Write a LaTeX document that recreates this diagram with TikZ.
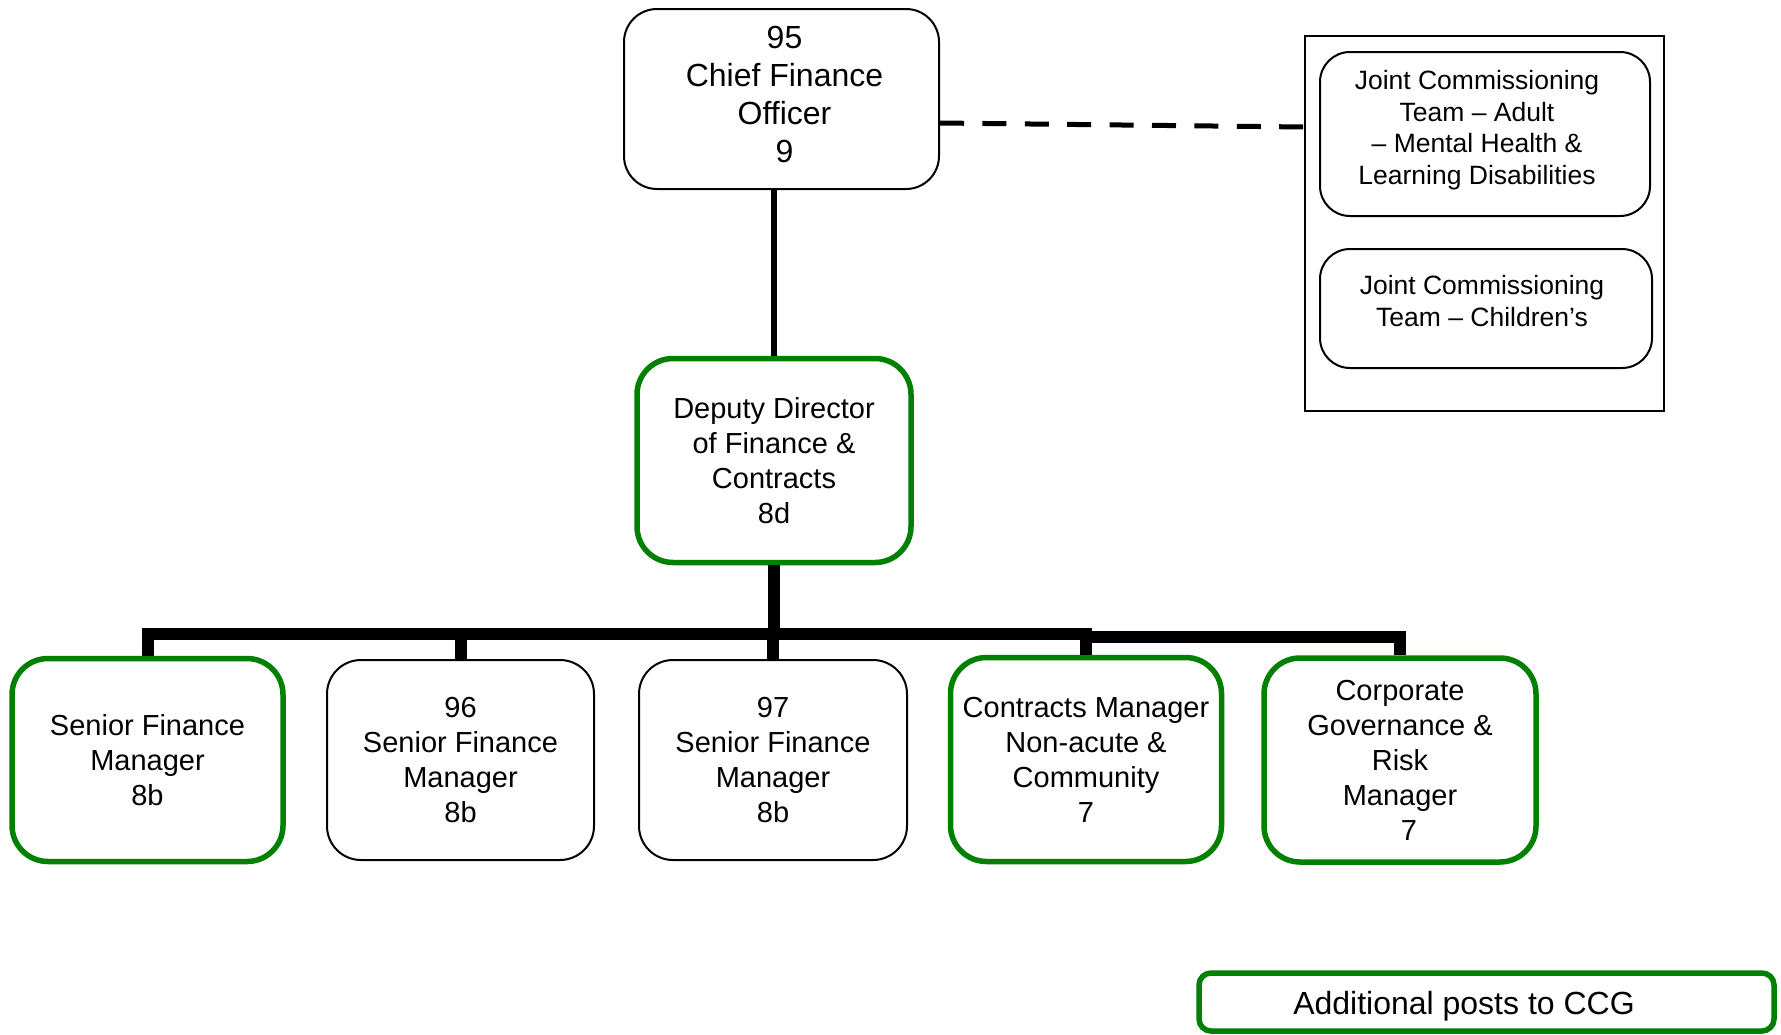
\documentclass[tikz,border=0pt]{standalone}
\usepackage{fontspec}
\setmainfont{Liberation Sans}
\definecolor{boxgreen}{RGB}{0,128,0}
\newcommand{\padr}[1]{\rule{#1}{0pt}}
\begin{document}
\begin{tikzpicture}[x=1pt,y=-1pt,
  basebox/.style={rounded corners=33pt, align=center, inner sep=2pt, text=black, fill=white},
  plainbox/.style={basebox, draw=black, line width=2pt},
  greenbox/.style={basebox, draw=boxgreen, line width=5.5pt},
  jctbox/.style={plainbox, rounded corners=30pt, font=\fontsize{26.5}{31.7}\selectfont},
  bigfont/.style={font=\fontsize{32}{38}\selectfont},
  midfont/.style={font=\fontsize{29}{35}\selectfont},
  bus/.style={draw=black, line width=12pt, line join=miter, line cap=butt},
  vline/.style={draw=black, line width=6pt},
  dashline/.style={draw=black, line width=5pt, dash pattern=on 24pt off 18.4pt}
]
\useasboundingbox (0,0) rectangle (1781,1034);

% top
\node[plainbox, bigfont, minimum width=315pt, minimum height=180pt] (cfo) at (781.5,99)
  {\padr{6pt}95\\\padr{6pt}Chief Finance\\\padr{6pt}Officer\\\padr{6pt}9\rule[-9pt]{0pt}{0pt}};
\node[greenbox, midfont, rounded corners=36pt, minimum width=274pt, minimum height=204pt] (dd) at (774,460.5)
  {Deputy Director\\of Finance \&\\Contracts\\8d};

% right frame
\node[draw=black, line width=2pt, minimum width=359pt, minimum height=375pt, inner sep=0pt] (frame) at (1484.5,223.5) {};
\node[jctbox, minimum width=330pt, minimum height=164pt] (jcta) at (1485,134)
  {Joint Commissioning\padr{16pt}\\Team – Adult\padr{16pt}\\– Mental Health \&\padr{16pt}\\Learning Disabilities\padr{16pt}\rule[-13pt]{0pt}{0pt}};
\node[jctbox, minimum width=332pt, minimum height=119pt] (jctc) at (1486,308.5)
  {Joint Commissioning\padr{8pt}\\Team – Children’s\padr{8pt}\rule[-15pt]{0pt}{0pt}};

% bottom row
\node[greenbox, midfont, rounded corners=36pt, minimum width=271pt, minimum height=203pt] (sfm) at (147.5,760)
  {Senior Finance\\Manager\\8b};
\node[plainbox, midfont, rounded corners=34pt, minimum width=267pt, minimum height=200pt] (m96) at (460.5,760)
  {96\\Senior Finance\\Manager\\8b};
\node[plainbox, midfont, rounded corners=34pt, minimum width=268pt, minimum height=200pt] (m97) at (773,760)
  {97\\Senior Finance\\Manager\\8b};
\node[greenbox, midfont, rounded corners=36pt, minimum width=271pt, minimum height=204pt] (cm) at (1086,759.5)
  {Contracts Manager\\Non-acute \&\\Community\\7};
\node[greenbox, midfont, rounded corners=36pt, minimum width=272pt, minimum height=204pt] (cg) at (1400,760)
  {Corporate\\Governance \&\\Risk\\Manager\\\hspace*{18pt}7};

% legend
\node[greenbox, rounded corners=12pt, bigfont, minimum width=575pt, minimum height=58pt] (add) at (1486.5,1002)
  {\rule{0pt}{32pt}Additional posts to CCG\padr{45pt}};

% connectors
\coordinate (dl) at (941,123);
\coordinate (dr) at (1304,127);
\draw[dashline] (cfo.east |- dl) -- (frame.west |- dr);
\draw[vline] (dd.north) -- (dd.north |- cfo.south);

\coordinate (bus) at (774,634);
\coordinate (busr) at (1086,637);
\draw[bus] (dd.south) -- (bus);
\foreach \c in {sfm,m96,m97,cm} {
  \draw[bus] (bus) -| (\c.north);
}
\draw[bus] (cm.north |- busr) -| (cg.north);
\end{tikzpicture}
\end{document}
